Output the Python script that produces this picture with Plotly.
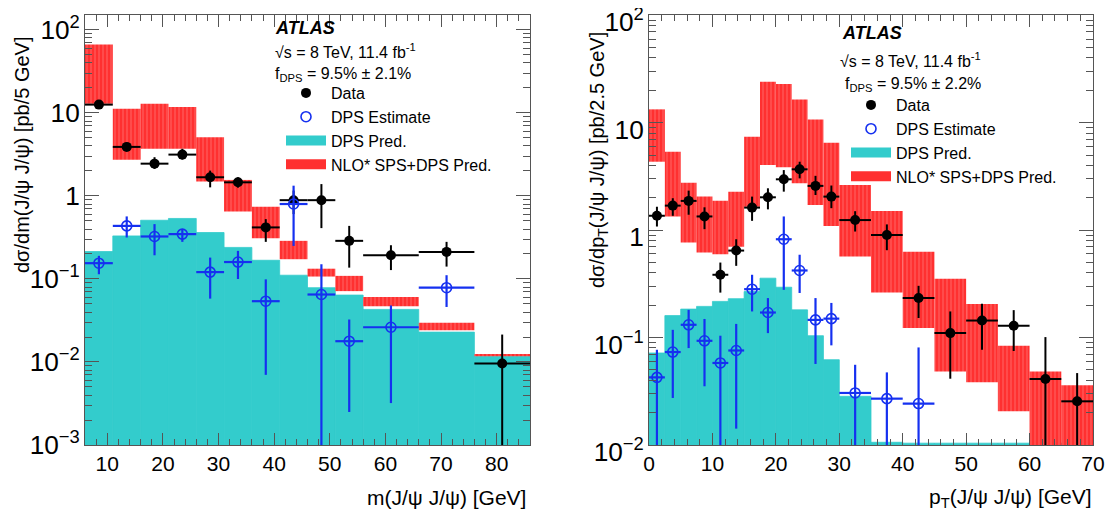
import plotly.graph_objects as go

# ---------------- data: left panel, m(J/psi J/psi) ----------------
m_edges = [6, 11, 16, 21, 26, 31, 36, 41, 46, 51, 56, 66, 76, 86]
m_data = [12.6, 3.9, 2.45, 3.15, 1.68, 1.46, 0.418, 0.89, 0.89, 0.288, 0.193, 0.212, 0.0096]
m_data_up = [14.0, 4.4, 2.93, 3.7, 2.02, 1.68, 0.526, 1.16, 1.39, 0.436, 0.255, 0.28, 0.0214]
m_data_dn = [11.3, 3.5, 2.12, 2.74, 1.27, 1.26, 0.28, 0.605, 0.41, 0.137, 0.128, 0.141, 0.0001]
m_est = [0.155, 0.436, 0.325, 0.347, 0.121, 0.160, 0.054, 0.80, 0.065, 0.0178, 0.0262, 0.0785]
m_est_up = [0.19, 0.567, 0.458, 0.39, 0.181, 0.218, 0.099, 1.33, 0.15, 0.0325, 0.048, 0.111]
m_est_dn = [0.114, 0.316, 0.193, 0.28, 0.058, 0.10, 0.007, 0.25, 0.0001, 0.0025, 0.0032, 0.046]
m_dps_pred = [0.214, 0.33, 0.51, 0.536, 0.363, 0.24, 0.168, 0.111, 0.0785, 0.064, 0.043, 0.0229, 0.0117]
m_nlo_hi = [67, 11.2, 12.9, 11.8, 5.1, 1.56, 0.74, 0.288, 0.133, 0.109, 0.0605, 0.0297, 0.0125]
m_nlo_lo = [12.9, 2.74, 3.7, 3.7, 1.49, 0.65, 0.31, 0.173, 0.107, 0.0714, 0.047, 0.0242, 0.0117]

# ---------------- data: right panel, pT(J/psi J/psi) ----------------
pt_edges = [0, 2.5, 5, 7.5, 10, 12.5, 15, 17.5, 20, 22.5, 25, 27.5, 30, 35, 40, 45, 50, 55, 60, 65, 70]
pt_data = [1.36, 1.69, 1.87, 1.34, 0.384, 0.645, 1.62, 2.02, 2.97, 3.68, 2.58, 2.05, 1.24, 0.90,
           0.233, 0.110, 0.144, 0.129, 0.0411, 0.0255]
pt_data_up = [1.65, 1.98, 2.33, 1.63, 0.499, 0.822, 2.05, 2.45, 3.62, 4.33, 3.2, 2.6, 1.5, 1.13,
              0.303, 0.175, 0.206, 0.18, 0.101, 0.0467]
pt_data_dn = [1.08, 1.36, 1.39, 1.02, 0.262, 0.465, 1.22, 1.56, 2.28, 3.03, 2.12, 1.6, 0.97, 0.65,
              0.152, 0.0414, 0.077, 0.075, 0.001, 0.001]
pt_est = [0.0426, 0.0733, 0.1315, 0.0933, 0.058, 0.0758, 0.282, 0.171, 0.822, 0.421, 0.146, 0.15,
          0.0305, 0.027, 0.0243]
pt_est_up = [0.077, 0.118, 0.181, 0.149, 0.104, 0.134, 0.384, 0.233, 1.34, 0.59, 0.233, 0.21,
             0.0558, 0.0474, 0.0809]
pt_est_dn = [0.001, 0.0274, 0.0798, 0.0352, 0.001, 0.0142, 0.175, 0.110, 0.278, 0.26, 0.0568, 0.0846,
             0.001, 0.001, 0.001]
pt_dps_pred = [0.0718, 0.160, 0.184, 0.195, 0.217, 0.23, 0.268, 0.357, 0.294, 0.181, 0.104, 0.0622,
               0.0284, 0.0106, 0.0104, 0.0104, 0.0104, 0.0104, 0.0104, 0.0104]
pt_nlo_hi = [13.3, 5.37, 2.76, 2.05, 1.88, 2.28, 7.4, 24, 22.9, 16.4, 10.7, 6.5, 2.63, 1.51,
             0.63, 0.352, 0.205, 0.084, 0.0484, 0.0359]
pt_nlo_lo = [4.33, 1.34, 0.766, 0.618, 0.595, 0.70, 1.65, 4.04, 3.85, 2.73, 1.71, 1.09, 0.568, 0.262,
             0.1225, 0.0484, 0.0383, 0.0206, 0.001, 0.001]

# ---------------- text ----------------
legend_names = ["Data", "DPS Estimate", "DPS Pred.", "NLO* SPS+DPS Pred."]
atlas_label = "<b><i>ATLAS</i></b>"
energy_label = "√s = 8 TeV, 11.4 fb<sup>-1</sup>"
fdps_left = "f<sub>DPS</sub> = 9.5% ± 2.1%"
fdps_right = "f<sub>DPS</sub> = 9.5% ± 2.2%"
x_title_left = "m(J/ψ J/ψ) [GeV]"
x_title_right = "p<sub>T</sub>(J/ψ J/ψ) [GeV]"
y_title_left = "dσ/dm(J/ψ J/ψ) [pb/5 GeV]"
y_title_right = "dσ/dp<sub>T</sub>(J/ψ J/ψ) [pb/2.5 GeV]"

CYAN = "#33cccc"
RED = "#ff3030"
BLUE = "#1530f0"
FONT = "Liberation Sans, Arial, Helvetica, sans-serif"

# page body has an 8px margin: work in screenshot pixels and convert
OFF = 8
SCR_W, SCR_H = 1115, 525
W, H = SCR_W - 2 * OFF, SCR_H - 2 * OFF
PLOT_LEFT, PLOT_RIGHT, PLOT_TOP, PLOT_BOTTOM = 85, 1093, 15, 445
L = PLOT_LEFT - OFF
R = W - (PLOT_RIGHT - OFF)
T = PLOT_TOP - OFF
B = H - (PLOT_BOTTOM - OFF)
pw = PLOT_RIGHT - PLOT_LEFT
ph = PLOT_BOTTOM - PLOT_TOP


def px2x(px):
    return (px - PLOT_LEFT) / pw


def px2y(py):
    return (PLOT_BOTTOM - py) / ph


def centers(edges):
    return [(a + b) / 2 for a, b in zip(edges[:-1], edges[1:])]


def widths(edges):
    return [b - a for a, b in zip(edges[:-1], edges[1:])]


fig = go.Figure()


def add_panel(edges, data, d_up, d_dn, est, e_up, e_dn, pred, nlo_hi, nlo_lo, xa, ya, leg):
    c = centers(edges)
    w = widths(edges)
    ne = len(est)
    fig.add_trace(go.Bar(
        x=c, y=pred, width=w, marker=dict(color=CYAN, line=dict(width=0.8, color=CYAN)),
        name=legend_names[2], xaxis=xa, yaxis=ya, showlegend=False))
    fig.add_trace(go.Bar(
        x=c, y=[h - l for h, l in zip(nlo_hi, nlo_lo)], base=nlo_lo, width=w,
        marker=dict(color=RED, line=dict(width=0),
                    pattern=dict(shape="|", fgcolor="#ff9a9a", bgcolor=RED, size=4, solidity=0.25)),
        name=legend_names[3], xaxis=xa, yaxis=ya, showlegend=False))
    fig.add_trace(go.Scatter(
        x=c, y=data, mode="markers",
        marker=dict(color="black", size=10, symbol="circle"),
        error_x=dict(type="data", array=[x / 2 for x in w], color="black", thickness=2, width=0),
        error_y=dict(type="data", symmetric=False,
                     array=[u - v for u, v in zip(d_up, data)],
                     arrayminus=[v - d for v, d in zip(data, d_dn)],
                     color="black", thickness=2, width=0),
        name=legend_names[0], legendrank=1, xaxis=xa, yaxis=ya, legend=leg, showlegend=True))
    fig.add_trace(go.Scatter(
        x=c[:ne], y=est, mode="markers",
        marker=dict(color=BLUE, size=10, symbol="circle-open", line=dict(width=1.6, color=BLUE)),
        error_x=dict(type="data", array=[x / 2 for x in w[:ne]], color=BLUE, thickness=2.2, width=0),
        error_y=dict(type="data", symmetric=False,
                     array=[u - v for u, v in zip(e_up, est)],
                     arrayminus=[v - d for v, d in zip(est, e_dn)],
                     color=BLUE, thickness=2.2, width=0),
        name=legend_names[1], legendrank=2, xaxis=xa, yaxis=ya, legend=leg, showlegend=True))
    # legend keys for the two filled predictions
    fig.add_trace(go.Scatter(x=[None], y=[None], mode="lines", line=dict(color=CYAN, width=15),
                             name=legend_names[2], legendrank=3, xaxis=xa, yaxis=ya, legend=leg))
    fig.add_trace(go.Scatter(x=[None], y=[None], mode="lines", line=dict(color=RED, width=15),
                             name=legend_names[3], legendrank=4, xaxis=xa, yaxis=ya, legend=leg))


add_panel(m_edges, m_data, m_data_up, m_data_dn, m_est, m_est_up, m_est_dn, m_dps_pred,
          m_nlo_hi, m_nlo_lo, "x", "y", "legend")
add_panel(pt_edges, pt_data, pt_data_up, pt_data_dn, pt_est, pt_est_up, pt_est_dn, pt_dps_pred,
          pt_nlo_hi, pt_nlo_lo, "x2", "y2", "legend2")

axis_common = dict(showline=True, linecolor="#555", linewidth=1, mirror="ticks", ticks="inside",
                   tickcolor="#555", showgrid=False, zeroline=False, ticklabeloverflow="allow",
                   automargin=False,
                   tickfont=dict(family=FONT, size=21, color="black"))

xaxis_common = dict(axis_common, ticklen=12, dtick=10, tick0=0,
                    minor=dict(ticks="inside", ticklen=6, dtick=2, tick0=0, tickcolor="#555", showgrid=False))
yaxis_common = dict(axis_common, type="log", ticklen=14, dtick=1, exponentformat="power",
                    minor=dict(ticks="inside", ticklen=7, tickcolor="#555", showgrid=False))

fig.update_layout(
    width=W, height=H,
    margin=dict(l=L, r=R, t=T, b=B, autoexpand=False),
    paper_bgcolor="white", plot_bgcolor="white",
    barmode="overlay",
    font=dict(family=FONT, color="black"),
    xaxis=dict(xaxis_common, domain=[0, px2x(530)], range=[6, 86], anchor="y"),
    yaxis=dict(yaxis_common, domain=[0, 1], range=[-3, 2.18], anchor="x"),
    xaxis2=dict(xaxis_common, domain=[px2x(649), 1], range=[0, 70], anchor="y2"),
    yaxis2=dict(yaxis_common, domain=[0, 1], range=[-2, 2.002], anchor="x2", ticklabelshift=7),
    legend=dict(x=px2x(281), y=px2y(76), xanchor="left", yanchor="top", bgcolor="rgba(0,0,0,0)",
                font=dict(family=FONT, size=16), tracegroupgap=0, itemwidth=40),
    legend2=dict(x=px2x(846), y=px2y(88), xanchor="left", yanchor="top", bgcolor="rgba(0,0,0,0)",
                 font=dict(family=FONT, size=16), tracegroupgap=0, itemwidth=40),
    showlegend=True,
)

ann = []


def text(s, px, py, size=16, xanchor="left", yanchor="middle", angle=0):
    ann.append(dict(text=s, x=px2x(px), y=px2y(py), xref="paper", yref="paper", showarrow=False,
                    xanchor=xanchor, yanchor=yanchor, textangle=angle,
                    font=dict(family=FONT, size=size, color="black")))


text(atlas_label, 273, 28, size=18)
text(energy_label, 273, 51, size=16)
text(fdps_left, 273, 74, size=16)
text(atlas_label, 840, 33, size=18)
text(energy_label, 838, 60, size=16)
text(fdps_right, 843, 85, size=16)
text(x_title_left, 528, 498, size=21, xanchor="right")
text(x_title_right, 1094, 498, size=21, xanchor="right")
text(y_title_left, 22, 155, size=20, xanchor="center", angle=-90)
text(y_title_right, 598, 160, size=20, xanchor="center", angle=-90)
fig.update_layout(annotations=ann)

fig.write_html("out.html")
